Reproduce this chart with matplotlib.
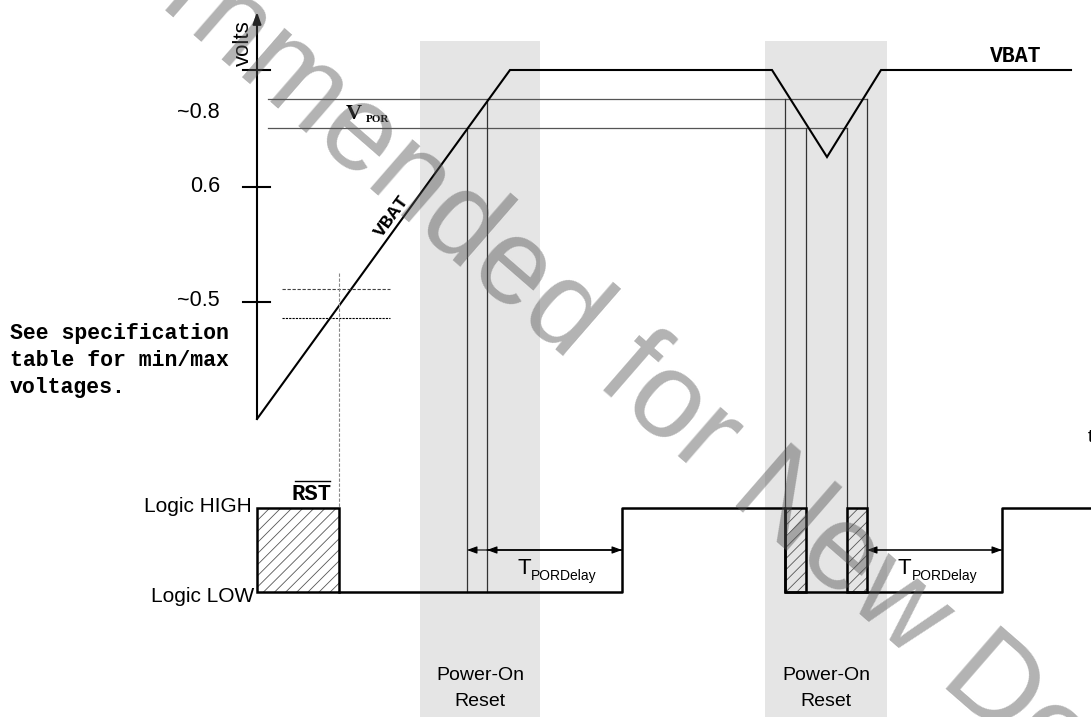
import matplotlib.pyplot as plt
from matplotlib.patches import Rectangle

# diagram units: t = time (px right of the volts axis), v = level (px above the t axis)
vbat_t = [0, 253, 515, 570, 624, 814]
vbat_v = [0, 349, 349, 262, 349, 349]

v_por_hi = 320
v_por_lo = 291
por_hi_end = 610
por_lo_end = 590

# crossing times of VBAT with the V_POR band, and which V_POR line each starts from
cross_t = [210, 230, 528, 549, 590, 610]
cross_v = [291, 320, 320, 291, 291, 320]

tick_v = [349, 232, 117]
volt_labels = ['~0.8', '0.6', '~0.5']
volt_label_v = [306, 232, 118]

# min/max spread around ~0.5 V
minmax_v = [130, 101]
minmax_t = [25, 133]
minmax_cross_t = 82

# RST logic trace
logic_high = -89
logic_low = -173
sig_t = [82, 365, 365, 528, 528, 745, 745, 834]
sig_lvl = ['L', 'L', 'H', 'H', 'L', 'L', 'H', 'H']
unknown_spans = [(0, 82), (528, 549), (590, 610)]

por_bands = [(163, 283), (508, 630)]
band_top = 378

# T_PORDelay arrows: (start, extra left head, end)
delays = [(210, 230, 365), (610, None, 745)]
delay_v = -131

note_lines = ['See specification', 'table for min/max', 'voltages.']
note_v = [85, 58, 31]

lvl = {'H': logic_high, 'L': logic_low}

plt.rcParams['hatch.linewidth'] = 0.6

fig = plt.figure(figsize=(10.91, 7.17), dpi=100)
ax = fig.add_axes([0, 0, 1, 1])
ax.set_xlim(-257, 834)
ax.set_ylim(-298, 419)
ax.axis('off')

sans = 'Liberation Sans'
mono = 'Liberation Mono'

for a, b in por_bands:
    ax.add_patch(Rectangle((a, -298), b - a, band_top + 298, color='#e5e5e5', lw=0, zorder=0))

# axes with arrows
ax.annotate('', xy=(0, 407), xytext=(0, 0),
            arrowprops=dict(arrowstyle='-|>,head_length=0.7,head_width=0.25', lw=1.5,
                            color='k', shrinkA=0, shrinkB=0, mutation_scale=10))
ax.annotate('', xy=(836, 0), xytext=(0, 0),
            arrowprops=dict(arrowstyle='-|>,head_length=0.7,head_width=0.25', lw=1.5,
                            color='k', shrinkA=0, shrinkB=0, mutation_scale=10))
for v in tick_v:
    ax.plot([-14, 13], [v, v], color='k', lw=1.5)
for s, v in zip(volt_labels, volt_label_v):
    ax.text(-37, v, s, ha='right', va='center', fontsize=15.5, family=sans)
ax.text(-14, 376, 'volts', rotation=90, ha='center', va='center', fontsize=16, family=sans)
ax.text(831, -18, 't', ha='left', va='center', fontsize=14, family=sans)

# V_POR band
ax.plot([11, por_hi_end], [v_por_hi, v_por_hi], color='#555555', lw=0.9)
ax.plot([11, por_lo_end], [v_por_lo, v_por_lo], color='#555555', lw=0.9)
ax.text(89, 305, 'V', ha='left', va='center', fontsize=16, family='Liberation Serif', weight='bold')
ax.text(109, 299, 'POR', ha='left', va='center', fontsize=8, family='Liberation Serif', weight='bold')

for t, v in zip(cross_t, cross_v):
    ax.plot([t, t], [v, logic_low], color='#333333', lw=0.9)

# VBAT
ax.plot(vbat_t, vbat_v, color='k', lw=1.5, solid_joinstyle='miter')
ax.text(135, 203, 'VBAT', rotation=54, ha='center', va='center', fontsize=14,
        family=mono, weight='bold')
ax.text(759, 362, 'VBAT', ha='center', va='center', fontsize=15.5, family=mono, weight='bold')

# min / max spread
ax.plot(minmax_t, [minmax_v[0]] * 2, color='#444444', lw=0.8, ls=(0, (3, 1.5)))
ax.plot(minmax_t, [minmax_v[1]] * 2, color='k', lw=0.8, ls=(0, (2, 1)))
ax.plot([minmax_cross_t] * 2, [146, logic_high], color='#888888', lw=0.8, ls=(0, (3, 1.5)))

for s, v in zip(note_lines, note_v):
    ax.text(-247, v, s, ha='left', va='center', fontsize=15.5, family=mono, weight='bold')

# logic trace
for a, b in unknown_spans:
    ax.add_patch(Rectangle((a, logic_low), b - a, logic_high - logic_low, facecolor='none',
                           edgecolor='#555555', hatch='///', lw=0, zorder=2))
    ax.add_patch(Rectangle((a, logic_low), b - a, logic_high - logic_low, fill=False,
                           edgecolor='k', lw=1.8, zorder=3))
ax.plot(sig_t, [lvl[s] for s in sig_lvl], color='k', lw=1.8, zorder=3)
ax.text(-5, logic_high + 2, 'Logic HIGH', ha='right', va='center', fontsize=15, family=sans)
ax.text(-3, logic_low - 4, 'Logic LOW', ha='right', va='center', fontsize=15, family=sans)
ax.text(55, -76, 'RST', ha='center', va='center', fontsize=16, family=mono, weight='bold')
ax.plot([38, 73], [-62, -62], color='k', lw=1)

ahead = dict(arrowstyle='-|>,head_length=0.6,head_width=0.22', lw=0.8, color='k',
             shrinkA=0, shrinkB=0, mutation_scale=10)
for start, extra, end in delays:
    mid = extra if extra is not None else start
    ax.annotate('', xy=(end, delay_v), xytext=(mid, delay_v), arrowprops=ahead)
    ax.annotate('', xy=(start, delay_v), xytext=(end, delay_v), arrowprops=ahead)
    if extra is not None:
        ax.annotate('', xy=(extra, delay_v), xytext=(end, delay_v), arrowprops=ahead)
    x0 = (start if extra is None else extra) + (31 if extra is None else 30)
    ax.text(x0, -149, 'T', ha='left', va='center', fontsize=16, family=sans)
    ax.text(x0 + 14, -157, 'PORDelay', ha='left', va='center', fontsize=10, family=sans)

for a, b in por_bands:
    ax.text((a + b) / 2, -257, 'Power-On', ha='center', va='center', fontsize=14, family=sans)
    ax.text((a + b) / 2, -283, 'Reset', ha='center', va='center', fontsize=14, family=sans)

# watermark
ax.text(265, 98, 'Not Recommended for New Designs', rotation=-41, rotation_mode='anchor',
        ha='center', va='baseline', fontsize=88, family=sans, color='#555555', alpha=0.45,
        zorder=10)

fig.savefig('out.png', dpi=100)
